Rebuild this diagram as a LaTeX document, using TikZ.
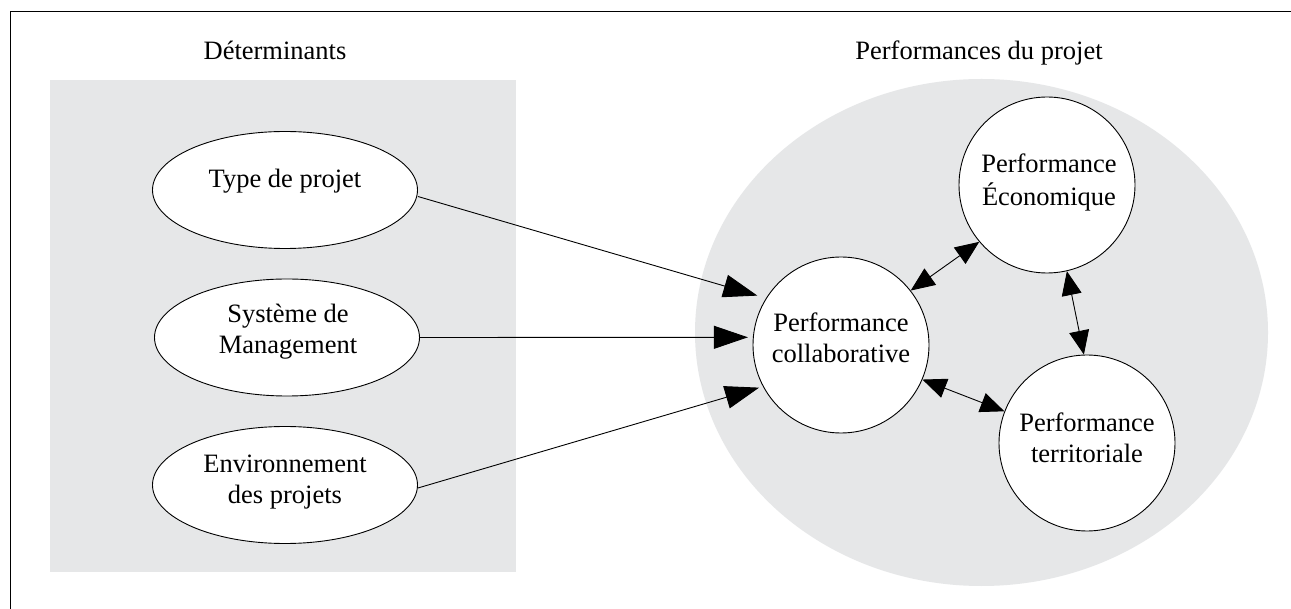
\documentclass[tikz,border=0pt]{standalone}
\usepackage{fontspec}
\setmainfont{Liberation Serif}
\usetikzlibrary{arrows.meta,shapes.geometric,calc}
\definecolor{panel}{RGB}{230,231,232}
\newcommand\twolines[1]{\begin{tabular}[t]{@{}c@{}}#1\end{tabular}}
\begin{document}
\begin{tikzpicture}[x=1pt,y=-1pt,
  every node/.style={font=\fontsize{26.5}{31}\selectfont},
  txt/.style={anchor=base, inner sep=0pt, outer sep=0pt},
  oval/.style={ellipse, draw, line width=0.9pt, fill=white, minimum width=265pt, minimum height=117pt, inner sep=0pt},
  perf/.style={circle, draw, line width=0.9pt, fill=white, minimum size=176pt, inner sep=0pt},
  inarrow/.style={line width=0.9pt, -{Triangle[length=34pt,width=23pt]}},
  bidir/.style={line width=0.9pt, {Triangle[length=24pt,width=20pt]}-{Triangle[length=24pt,width=20pt]}},
  zone/.style={fill=panel, draw=none, inner sep=0pt}]
\useasboundingbox (0,0) rectangle (1291,609);
\fill[white] (0,0) rectangle (1291,609);
% frame
\coordinate (fbl) at (10,609);
\coordinate (ftl) at (10,12);
\coordinate (ftr) at (1291,12);
\draw[line width=1pt] (fbl) -- (ftl) -- (ftr);
% background zones
\node[zone, rectangle, minimum width=466pt, minimum height=492pt] (detzone) at (283,326) {};
\node[zone, ellipse, minimum width=573pt, minimum height=507pt] (perfzone) at (981.5,332.5) {};
% titles
\node[txt] (dettitle) at (275,60) {Déterminants};
\node[txt] (perftitle) at (979,60) {Performances du projet};
% determinants
\node[oval] (type) at (285,190) {};
\node[txt] (typetxt) at (285,188) {Type de projet};
\node[oval] (mgmt) at (287,337.5) {};
\node[txt] (mgmttxt) at (288,323) {\twolines{Système de\\Management}};
\node[oval] (env) at (285,485) {};
\node[txt] (envtxt) at (285,473) {\twolines{Environnement\\des projets}};
% performances
\node[perf] (collab) at (841,345) {};
\node[txt] (collabtxt) at (841,332) {\twolines{Performance\\collaborative}};
\node[perf] (eco) at (1047,185) {};
\node[txt] (ecotxt) at (1049,173) {\twolines{Performance\\Économique}};
\node[perf] (terr) at (1087,443) {};
\node[txt] (terrtxt) at (1087,432) {\twolines{Performance\\territoriale}};
% connectors
\draw[inarrow, shorten >=9pt] ([yshift=-6.5pt]type.east) -- (collab.148.9);
\draw[inarrow, shorten >=5pt] (mgmt.east) -- (collab.175.4);
\draw[inarrow, shorten >=4pt] ([yshift=-3pt]env.east) -- (collab.208.5);
\draw[bidir] (collab.38.2) -- (eco.220.5);
\draw[bidir] (eco.-77.2) -- (terr.92.6);
\draw[bidir] (collab.-23.7) -- (terr.159.4);
\end{tikzpicture}
\end{document}
